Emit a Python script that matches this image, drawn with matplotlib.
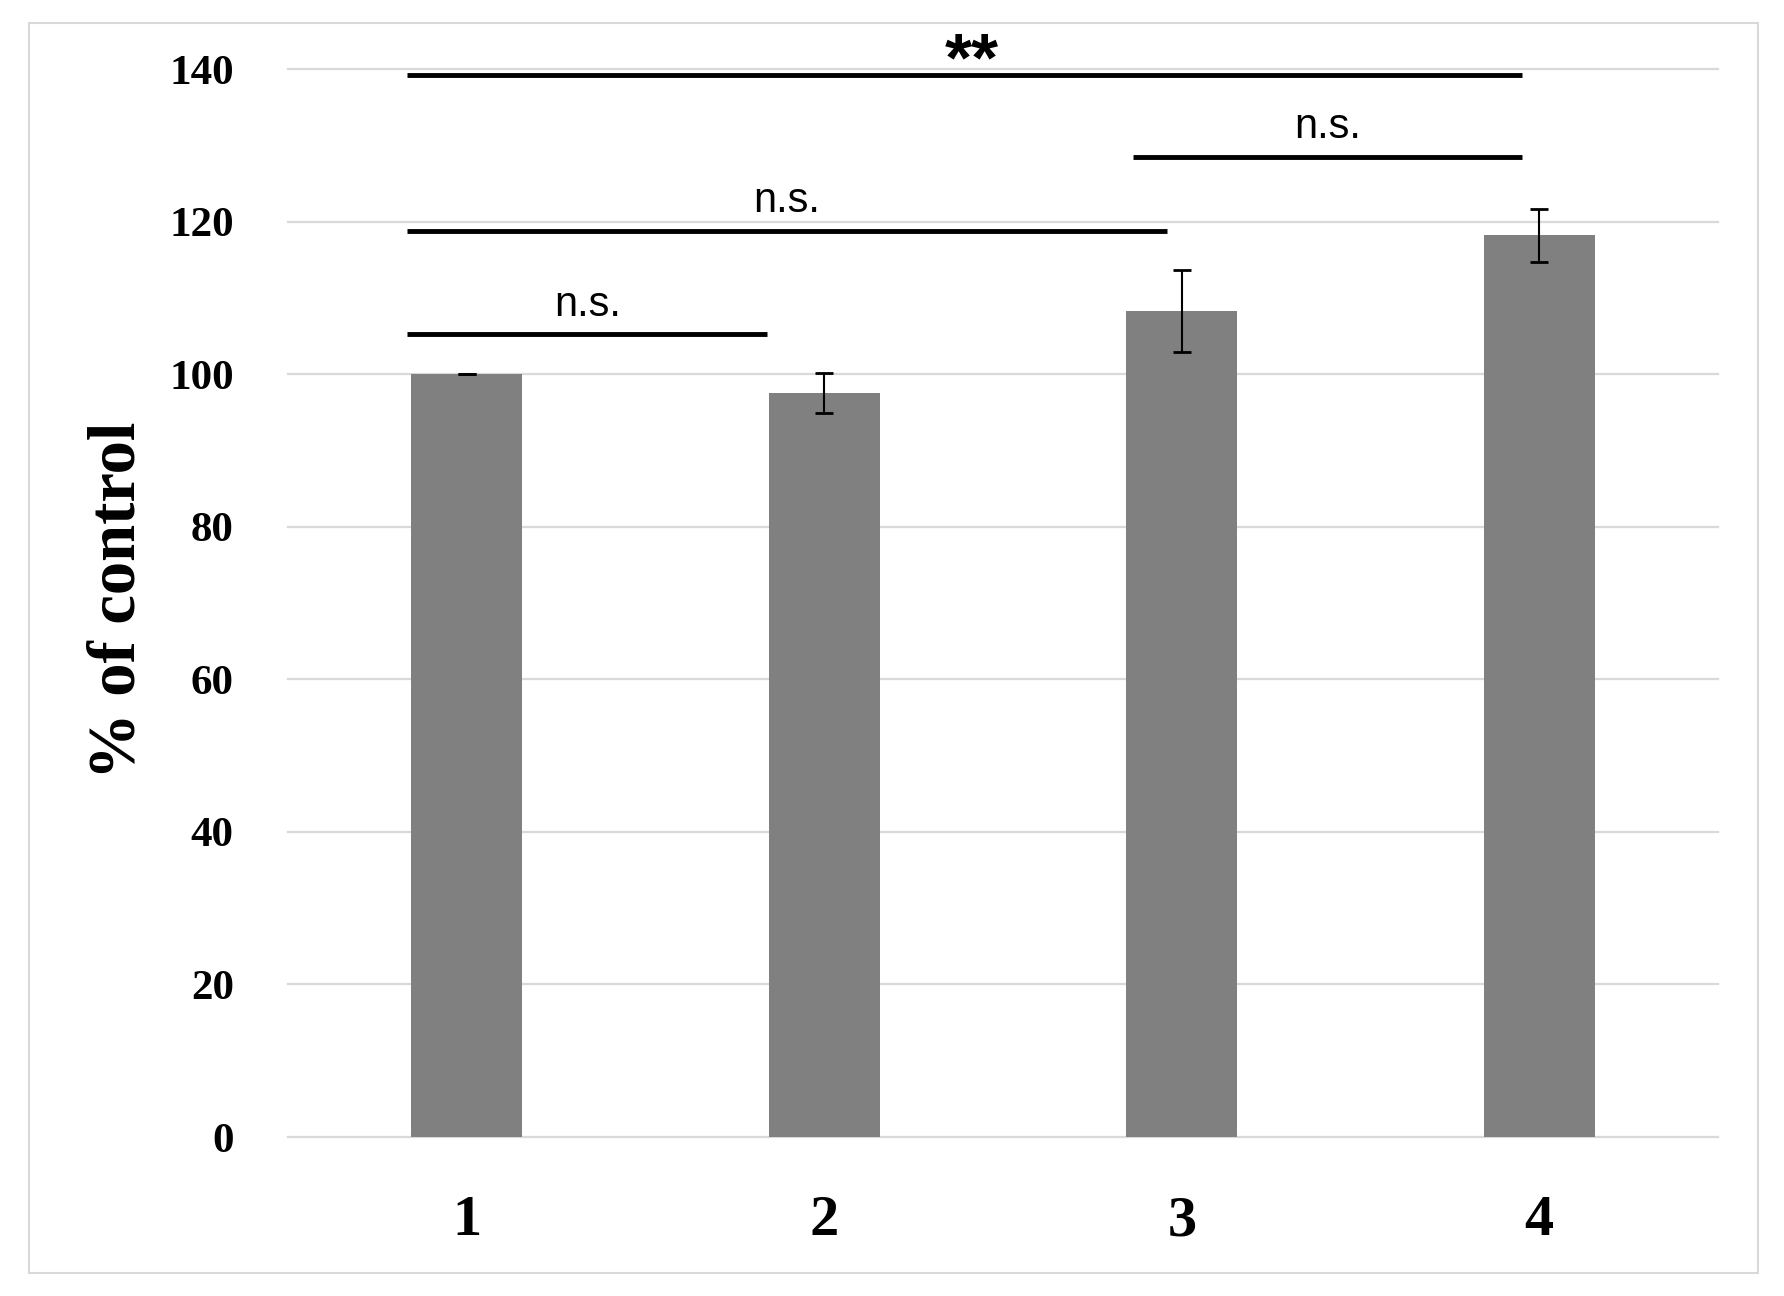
import matplotlib
matplotlib.use('Agg')
import matplotlib.pyplot as plt
from matplotlib.patches import Rectangle

# data
groups = ['1', '2', '3', '4']
means = [100.0, 97.5, 108.3, 118.2]
errors = [0.0, 2.6, 5.4, 3.5]
y_ticks = [0, 20, 40, 60, 80, 100, 120, 140]

# significance brackets: (x start, x end, height, label)
sig_start = [0.834, 0.834, 2.863, 0.834]
sig_end = [1.84, 2.958, 3.952, 3.952]
sig_height = [105.2, 118.8, 128.5, 139.2]
sig_label = ['n.s.', 'n.s.', 'n.s.', '**']

W, H = 1784, 1296
fig = plt.figure(figsize=(W / 100, H / 100), dpi=100)

# outer light frame
fig.patches.append(Rectangle((29 / W, 1 - 1273 / H), (1758 - 29) / W, (1273 - 23) / H,
                             transform=fig.transFigure, fill=False,
                             edgecolor='#d9d9d9', linewidth=1.5))

left, right = 288 / W, 1718 / W
bottom, top = 1 - 1137 / H, 1 - 69 / H
ax = fig.add_axes([left, bottom, right - left, top - bottom])

x = list(range(1, len(groups) + 1))
ax.bar(x, means, width=0.31, color='#808080', zorder=2)
ax.errorbar(x, means, yerr=errors, fmt='none', ecolor='black',
            elinewidth=1.5, capsize=6.5, capthick=2, zorder=3)

ax.set_xlim(0.5, 4.5)
ax.set_ylim(0, 140)
ax.set_yticks(y_ticks)
ax.set_xticks(x)
ax.set_xticklabels(groups)

ax.yaxis.grid(True, color='#d9d9d9', linewidth=1.6, zorder=0)
for gl in ax.get_ygridlines():
    gl.set_clip_on(False)
ax.set_axisbelow(True)

for s in ax.spines.values():
    s.set_visible(False)

ax.tick_params(axis='both', length=0)
ax.tick_params(axis='y', pad=39)
ax.tick_params(axis='x', pad=42)
for lab in ax.get_yticklabels():
    lab.set_fontfamily('Liberation Serif')
    lab.set_fontweight('bold')
    lab.set_fontsize(31)
for lab in ax.get_xticklabels():
    lab.set_fontfamily('Liberation Serif')
    lab.set_fontweight('bold')
    lab.set_fontsize(42)

fig.text(118 / W, 1 - 600 / H, '% of control', rotation=90, ha='center', va='center',
         fontfamily='Liberation Serif', fontweight='bold', fontsize=48)

# significance brackets
for x0, x1, h, lab in zip(sig_start, sig_end, sig_height, sig_label):
    ax.plot([x0, x1], [h, h], color='black', linewidth=3.5, solid_capstyle='butt',
            clip_on=False, zorder=4)
    if lab == '**':
        # asterisks sit high in the font, so anchor them lower
        ax.text((x0 + x1) / 2 + 0.02, h - 2.5, lab, ha='center', va='bottom',
                fontfamily='Liberation Sans', fontweight='bold', fontsize=50, clip_on=False)
    else:
        ax.text((x0 + x1) / 2, h + 1.3, lab, ha='center', va='bottom',
                fontfamily='Liberation Sans', fontsize=30, clip_on=False)

fig.savefig('out.png', dpi=100, facecolor='white')
